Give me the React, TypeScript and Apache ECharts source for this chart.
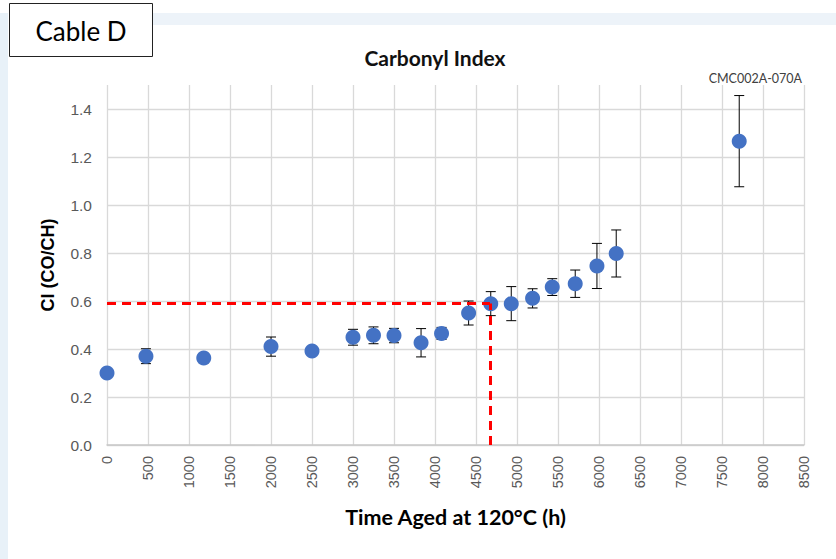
import React, { useEffect, useRef } from "react";
import * as echarts from "echarts";

// Ageing time (h) at 120 °C for each sample
const hours = [0, 475, 1180, 2000, 2500, 3000, 3250, 3500, 3830, 4080, 4410, 4680, 4930, 5190, 5430, 5710, 5975, 6210, 7710];
// Mean carbonyl index at each ageing time
const ci = [0.3, 0.37, 0.362, 0.41, 0.392, 0.449, 0.457, 0.456, 0.426, 0.465, 0.55, 0.589, 0.589, 0.611, 0.658, 0.672, 0.746, 0.798, 1.266];
// Standard deviation (±) of the carbonyl index
const ciErr = [0, 0.031, 0.02, 0.04, 0, 0.033, 0.035, 0.03, 0.059, 0.025, 0.05, 0.05, 0.071, 0.04, 0.035, 0.057, 0.094, 0.098, 0.19];

// Threshold marked with red dashed guides
const thresholdCI = 0.59;
const thresholdHours = 4670;

const xTicks = { min: 0, max: 8500, interval: 500 };
const yTicks = { min: 0, max: 1.5, interval: 0.2 };

const calibri = "Lato, 'Open Sans', sans-serif";
const arial = "'Liberation Sans', Arial, sans-serif";

export default function App() {
  const ref = useRef<HTMLDivElement>(null);

  useEffect(() => {
    if (!ref.current) return;
    const chart = echarts.init(ref.current, null, { renderer: "svg" });

    const points = hours.map((h, i) => [h, ci[i]]);
    const bars = hours.map((h, i) => [h, ci[i] - ciErr[i], ci[i] + ciErr[i]]);

    chart.setOption({
      animation: false,
      backgroundColor: "#ffffff",
      grid: { left: 107, right: 32, top: 85, bottom: 114, containLabel: false },
      title: {
        text: "Carbonyl Index",
        left: 430,
        top: 42,
        textAlign: "center",
        textStyle: { fontFamily: calibri, fontWeight: "bold", fontSize: 21, color: "#111111" },
      },
      graphic: [
        { type: "rect", silent: true, shape: { x: 150, y: 13, width: 686, height: 12 }, style: { fill: "#edf3f9" }, z: -10 },
        { type: "rect", silent: true, shape: { x: 0, y: 13, width: 8, height: 546 }, style: { fill: "#e8f1f8" }, z: -10 },
        { type: "rect", shape: { x: 9.5, y: 3.5, width: 143, height: 53 }, style: { fill: "#ffffff", stroke: "#222222", lineWidth: 1 } },
        {
          type: "text",
          x: 81,
          y: 31,
          style: { text: "Cable D", fontFamily: calibri, fontSize: 26, fill: "#000000", align: "center", verticalAlign: "middle" },
        },
        {
          type: "text",
          x: 802,
          y: 78,
          style: { text: "CMC002A-070A", fontFamily: calibri, fontSize: 12.5, fill: "#404040", align: "right", verticalAlign: "middle" },
        },
      ],
      xAxis: {
        type: "value",
        min: xTicks.min,
        max: xTicks.max,
        interval: xTicks.interval,
        name: "Time Aged at 120°C (h)",
        nameLocation: "middle",
        nameGap: 61,
        nameTextStyle: { fontFamily: calibri, fontWeight: "bold", fontSize: 21.5, color: "#000000" },
        axisLine: { show: true, lineStyle: { color: "#c8c8c8", width: 1.5 } },
        axisTick: { show: false },
        axisLabel: {
          rotate: 90,
          margin: 11,
          fontFamily: arial,
          fontSize: 14.5,
          color: "#595959",
          formatter: (v: number) => String(v),
        },
        splitLine: { show: true, lineStyle: { color: "#d9d9d9", width: 1.3 } },
      },
      yAxis: {
        type: "value",
        min: yTicks.min,
        max: yTicks.max,
        interval: yTicks.interval,
        name: "CI (CO/CH)",
        nameLocation: "middle",
        nameGap: 50,
        nameTextStyle: { fontFamily: arial, fontWeight: "bold", fontSize: 18, color: "#000000" },
        axisLine: { show: false },
        axisTick: { show: false },
        axisLabel: {
          margin: 15,
          fontFamily: arial,
          fontSize: 15.5,
          color: "#595959",
          showMaxLabel: false,
          formatter: (v: number) => (Math.abs(v - yTicks.max) < 1e-9 ? "" : v.toFixed(1)),
        },
        splitLine: { show: true, showMaxLine: false, lineStyle: { color: "#d9d9d9", width: 1.3 } },
      },
      series: [
        {
          type: "custom",
          name: "error",
          z: 3,
          data: bars,
          encode: { x: 0, y: [1, 2] },
          renderItem: (_params: any, api: any) => {
            const x = api.value(0);
            const lo = api.coord([x, api.value(1)]);
            const hi = api.coord([x, api.value(2)]);
            const cap = 5;
            const style = { stroke: "#000000", lineWidth: 1 };
            return {
              type: "group",
              children: [
                { type: "line", shape: { x1: lo[0], y1: lo[1], x2: hi[0], y2: hi[1] }, style },
                { type: "line", shape: { x1: lo[0] - cap, y1: lo[1], x2: lo[0] + cap, y2: lo[1] }, style },
                { type: "line", shape: { x1: hi[0] - cap, y1: hi[1], x2: hi[0] + cap, y2: hi[1] }, style },
              ],
            };
          },
        },
        {
          type: "scatter",
          name: "CI",
          z: 4,
          data: points,
          symbol: "circle",
          symbolSize: 15,
          itemStyle: { color: "#4472c4", opacity: 1 },
          markLine: {
            silent: true,
            symbol: "none",
            label: { show: false },
            lineStyle: { color: "#ff0000", width: 3, type: [9, 6], opacity: 1 },
            data: [
              [{ coord: [0, thresholdCI] }, { coord: [thresholdHours, thresholdCI] }],
              [{ coord: [thresholdHours, 0] }, { coord: [thresholdHours, thresholdCI] }],
            ],
          },
        },
      ],
    });

    return () => chart.dispose();
  }, []);

  return <div ref={ref} style={{ position: "fixed", left: 0, top: 0, width: 836, height: 559 }} />;
}
